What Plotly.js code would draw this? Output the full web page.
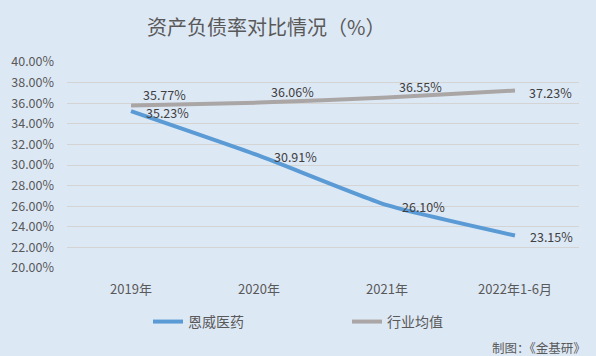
<!DOCTYPE html>
<html><head><meta charset="utf-8">
<script src="https://cdn.plot.ly/plotly-3.0.1.min.js"></script>
<style>html,body{margin:0;padding:0;background:#dde8f5;}#c{width:596px;height:356px;}</style>
</head><body><div id="c"></div>
<script>
const categories = ['2019年', '2020年', '2021年', '2022年1-6月'];
const seriesNames = ['恩威医药', '行业均值'];
const enweiValues = [35.23, 30.91, 26.10, 23.15];
const industryValues = [35.77, 36.06, 36.55, 37.23];
const yTicks = [20, 22, 24, 26, 28, 30, 32, 34, 36, 38, 40];

const font = '"Noto Sans CJK SC", "Liberation Sans", sans-serif';
const pct = v => v.toFixed(2) + '%';

const traces = [
  {
    x: categories, y: enweiValues, name: seriesNames[0], type: 'scatter', mode: 'lines',
    line: {color: '#5b9bd5', width: 4, shape: 'spline', smoothing: 0.5},
    legend: 'legend'
  },
  {
    x: categories, y: industryValues, name: seriesNames[1], type: 'scatter', mode: 'lines',
    line: {color: '#aaa6a6', width: 4, shape: 'spline', smoothing: 0.5},
    legend: 'legend2'
  }
];

const labelFont = {family: font, size: 12.5, color: '#404040'};
const annotations = [];
enweiValues.forEach((v, i) => annotations.push({
  x: categories[i], y: v, xref: 'x', yref: 'y', text: pct(v), showarrow: false,
  xanchor: 'center', yanchor: 'middle', xshift: 36, yshift: -1, font: labelFont
}));
industryValues.forEach((v, i) => {
  const last = i === industryValues.length - 1;
  annotations.push({
    x: categories[i], y: v, xref: 'x', yref: 'y', text: pct(v), showarrow: false,
    xanchor: 'center', yanchor: 'middle', xshift: last ? 35 : 33, yshift: last ? -1.5 : 11, font: labelFont
  });
});
annotations.push(
  {text: '资产负债率对比情况（%）', xref: 'paper', yref: 'paper', x: (266 - 67) / 512, y: 1, yshift: 36,
   xanchor: 'center', yanchor: 'middle', showarrow: false, font: {family: font, size: 20, color: '#595959'}},
  {text: '制图：《金基研》', xref: 'paper', yref: 'paper', x: (588 - 67) / 512, y: 0, yshift: -79,
   xanchor: 'right', yanchor: 'middle', showarrow: false, font: {family: font, size: 12.5, color: '#595959'}}
);

const legendCommon = {orientation: 'h', xanchor: 'left', yanchor: 'middle', y: -0.262,
  font: {family: font, size: 14, color: '#595959'}, bgcolor: 'rgba(0,0,0,0)', borderwidth: 0};

const layout = {
  width: 596, height: 356,
  paper_bgcolor: '#dde8f5', plot_bgcolor: '#dde8f5',
  margin: {l: 67, r: 17, t: 62, b: 88},
  font: {family: font, size: 12, color: '#595959'},
  showlegend: true,
  legend: Object.assign({}, legendCommon, {x: (148 - 67) / 512}),
  legend2: Object.assign({}, legendCommon, {x: (347 - 67) / 512}),
  xaxis: {type: 'category', range: [-0.5, 3.5], showgrid: false, zeroline: false, showline: false,
          ticks: '', ticklabelstandoff: 12, tickfont: {family: font, size: 13, color: '#595959'}, fixedrange: true},
  yaxis: {range: [20, 40], tickvals: yTicks, ticktext: yTicks.map(pct), showgrid: true,
          gridcolor: '#d4d4d4', gridwidth: 1, zeroline: false, showline: false, ticks: '',
          ticklabelstandoff: 12, tickfont: {family: font, size: 12.5, color: '#595959'}, fixedrange: true},
  annotations: annotations
};

Plotly.newPlot('c', traces, layout, {displayModeBar: false, staticPlot: true});
</script></body></html>
